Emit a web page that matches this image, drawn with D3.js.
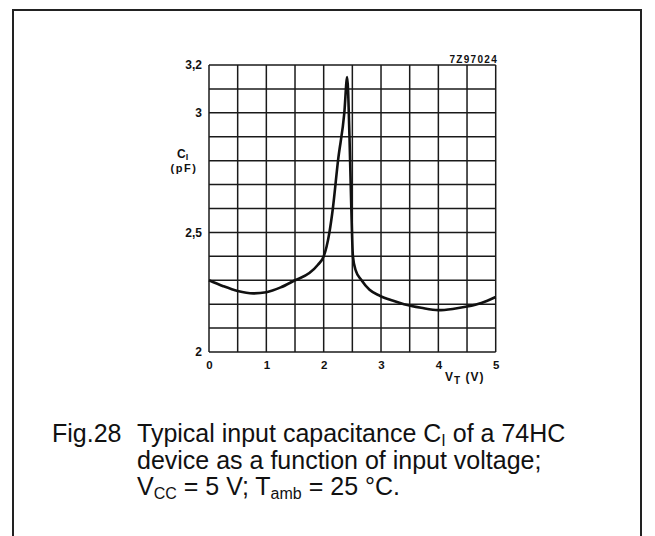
<!DOCTYPE html>
<html>
<head>
<meta charset="utf-8">
<script src="https://cdn.jsdelivr.net/npm/d3@7"></script>
<style>
  body { margin: 0; background: #fff; }
  svg { display: block; font-family: "Liberation Sans", Arial, sans-serif; }
</style>
</head>
<body>
<div id="chart-area"></div>
<script>
// curve
const voltage = [0, 0.25, 0.5, 0.77, 1.0, 1.25, 1.5, 1.75, 1.9, 2.0, 2.05, 2.1, 2.16, 2.25, 2.36, 2.41,
	2.45, 2.48, 2.51, 2.56, 2.66, 2.8, 2.98, 3.2, 3.4, 3.7, 4.0, 4.25, 4.5, 4.75, 5.0]
const capacitance = [2.30, 2.275, 2.255, 2.245, 2.25, 2.27, 2.30, 2.33, 2.365, 2.40, 2.44, 2.50, 2.60, 2.80, 3.00, 3.15,
	2.90, 2.62, 2.40, 2.34, 2.30, 2.26, 2.235, 2.215, 2.20, 2.185, 2.175, 2.18, 2.19, 2.205, 2.23]

// axes
const xTicks = [0, 1, 2, 3, 4, 5]
const xTickLabels = ['0', '1', '2', '3', '4', '5']
const yTicks = [2, 2.5, 3, 3.2]
const yTickLabels = ['2', '2,5', '3', '3,2']
const xGrid = d3.range(0, 5.001, 0.5)
const yGrid = d3.range(0, 13).map(i => 2 + i * 0.1)

const margin = { top: 65, left: 209 }
const width = 286.7
const height = 287

const svg = d3.select('#chart-area')
	.append('svg')
	.attr('width', 655)
	.attr('height', 536)

// outer frame
svg.append('rect')
	.attr('x', 13).attr('y', 10)
	.attr('width', 628).attr('height', 545)
	.attr('fill', 'none')
	.attr('stroke', '#222')
	.attr('stroke-width', 2)

const g = svg.append('g')
	.attr('transform', 'translate(' + margin.left + ',' + margin.top + ')')

const xScale = d3.scaleLinear().domain([0, 5]).range([0, width])
const yScale = d3.scaleLinear().domain([2, 3.2]).range([height, 0])

// grid
g.append('g').selectAll('line')
	.data(xGrid)
	.join('line')
	.attr('x1', d => xScale(d)).attr('x2', d => xScale(d))
	.attr('y1', 0).attr('y2', height)
	.attr('stroke', '#1a1a1a')
	.attr('stroke-width', 1.5)

g.append('g').selectAll('line')
	.data(yGrid)
	.join('line')
	.attr('x1', 0).attr('x2', width)
	.attr('y1', d => yScale(d)).attr('y2', d => yScale(d))
	.attr('stroke', '#1a1a1a')
	.attr('stroke-width', 1.5)

// tick labels
const yAxis = d3.axisLeft(yScale)
	.tickValues(yTicks)
	.tickSize(0)
	.tickPadding(7)
	.tickFormat((d, i) => yTickLabels[i])

g.append('g')
	.call(yAxis)
	.call(ax => ax.select('.domain').remove())
	.selectAll('text')
	.attr('font-size', 12)
	.attr('font-weight', 'bold')
	.attr('fill', '#111')
	.attr('font-family', '"Liberation Sans", Arial, sans-serif')

const xAxis = d3.axisBottom(xScale)
	.tickValues(xTicks)
	.tickSize(0)
	.tickPadding(9)
	.tickFormat((d, i) => xTickLabels[i])

g.append('g')
	.attr('transform', 'translate(0,' + height + ')')
	.call(xAxis)
	.call(ax => ax.select('.domain').remove())
	.selectAll('text')
	.attr('font-size', 11.5)
	.attr('font-weight', 'bold')
	.attr('fill', '#111')
	.attr('font-family', '"Liberation Sans", Arial, sans-serif')

// curve
const line = d3.line()
	.x((d, i) => xScale(voltage[i]))
	.y(d => yScale(d))
	.curve(d3.curveMonotoneX)

g.append('path')
	.datum(capacitance)
	.attr('d', line)
	.attr('fill', 'none')
	.attr('stroke', '#111')
	.attr('stroke-width', 2.6)
	.attr('stroke-linejoin', 'round')

// axis titles
const cl = svg.append('text')
	.attr('x', 177).attr('y', 158)
	.attr('font-size', 12).attr('font-weight', 'bold').attr('fill', '#111')
cl.append('tspan').text('C')
cl.append('tspan').attr('font-size', 9).attr('dy', 2).text('I')

svg.append('text')
	.attr('x', 184).attr('y', 172)
	.attr('text-anchor', 'middle')
	.attr('font-size', 11).attr('font-weight', 'bold').attr('fill', '#111')
	.attr('letter-spacing', 1.6)
	.text('(pF)')

const vt = svg.append('text')
	.attr('x', 445).attr('y', 381)
	.attr('font-size', 12).attr('font-weight', 'bold').attr('fill', '#111')
	.attr('letter-spacing', 1)
vt.append('tspan').text('V')
vt.append('tspan').attr('font-size', 10).attr('dy', 3).text('T')
vt.append('tspan').attr('dy', -3).text(' (V)')

svg.append('text')
	.attr('x', 498).attr('y', 63)
	.attr('text-anchor', 'end')
	.attr('font-size', 10).attr('font-weight', 'bold').attr('fill', '#111')
	.attr('letter-spacing', 1.3)
	.text('7Z97024')

// caption
const capSize = 25
const subSize = 16
svg.append('text')
	.attr('x', 52).attr('y', 442)
	.attr('font-size', capSize).attr('fill', '#111')
	.text('Fig.28')

const l1 = svg.append('text')
	.attr('x', 137).attr('y', 442)
	.attr('font-size', capSize).attr('fill', '#111')
l1.append('tspan').text('Typical input capacitance C')
l1.append('tspan').attr('font-size', subSize).attr('dy', 3.5).text('I')
l1.append('tspan').attr('dy', -3.5).text(' of a 74HC')

svg.append('text')
	.attr('x', 137).attr('y', 468.5)
	.attr('font-size', capSize).attr('fill', '#111')
	.text('device as a function of input voltage;')

const l3 = svg.append('text')
	.attr('x', 137).attr('y', 495)
	.attr('font-size', capSize).attr('fill', '#111')
l3.append('tspan').text('V')
l3.append('tspan').attr('font-size', subSize).attr('dy', 4).text('CC')
l3.append('tspan').attr('dy', -4).text(' = 5 V; T')
l3.append('tspan').attr('font-size', subSize).attr('dy', 4).text('amb')
l3.append('tspan').attr('dy', -4).text(' = 25 \u00B0C.')
</script>
</body>
</html>
